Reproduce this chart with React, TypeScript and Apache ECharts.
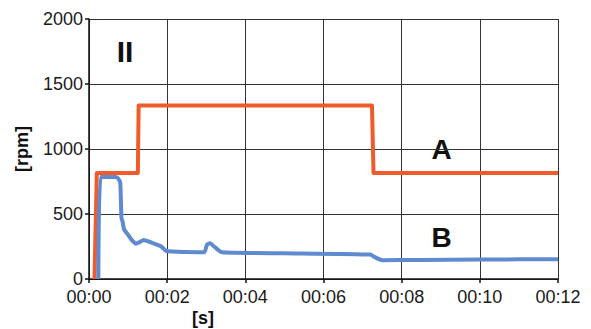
import React, { useEffect, useRef } from "react";
import * as echarts from "echarts";

// time in seconds, rpm
const seriesATime = [0.14, 0.2, 1.25, 1.27, 7.24, 7.28, 12];
const seriesAValues = [0, 815, 815, 1335, 1335, 815, 815];

const seriesBTime = [0.24, 0.3, 0.68, 0.74, 0.8, 0.83, 0.86, 0.9, 1.0, 1.08, 1.2, 1.3, 1.4, 1.6, 1.75, 1.85, 1.98, 2.5, 2.95, 3.02, 3.1, 3.2, 3.4, 5.0, 7.2, 7.3, 7.5, 8.5, 10, 12];
const seriesBValues = [0, 785, 785, 775, 740, 470, 440, 380, 340, 305, 272, 285, 300, 280, 262, 250, 215, 208, 205, 265, 275, 250, 205, 198, 188, 170, 145, 147, 150, 152];

const xTicks = [0, 2, 4, 6, 8, 10, 12];
const yTicks = [0, 500, 1000, 1500, 2000];
const seriesNames = ["A", "B"];

export default function App() {
  const ref = useRef<HTMLDivElement>(null);
  useEffect(() => {
    const chart = echarts.init(ref.current!, null, { renderer: "svg" });
    const font = "'Liberation Sans', Arial, sans-serif";
    chart.setOption({
      animation: false,
      grid: { left: 89, right: 33, top: 19, bottom: 50 },
      xAxis: {
        type: "value",
        min: xTicks[0],
        max: xTicks[xTicks.length - 1],
        interval: 2,
        axisLine: { lineStyle: { color: "#111", width: 1.5 } },
        axisTick: { show: true, length: 4, lineStyle: { color: "#111", width: 1.5 } },
        axisLabel: {
          fontFamily: font, fontSize: 18, lineHeight: 13, color: "#1a1a1a", margin: 11,
          formatter: (v: number) => "00:" + String(v).padStart(2, "0"),
        },
        splitLine: { show: true, lineStyle: { color: "#333", width: 1 } },
      },
      yAxis: {
        type: "value",
        min: yTicks[0],
        max: yTicks[yTicks.length - 1],
        interval: 500,
        name: "[rpm]",
        nameLocation: "middle",
        nameGap: 58,
        nameRotate: 90,
        nameTextStyle: { fontFamily: font, fontSize: 18, fontWeight: "bold", color: "#111" },
        axisLine: { show: true, lineStyle: { color: "#111", width: 1.5 } },
        axisTick: { show: true, length: 4, lineStyle: { color: "#111", width: 1.5 } },
        axisLabel: { fontFamily: font, fontSize: 18, lineHeight: 13, color: "#1a1a1a", margin: 6, formatter: (v: number) => String(v) },
        splitLine: { show: true, lineStyle: { color: "#333", width: 1 } },
      },
      series: [
        {
          name: seriesNames[0],
          type: "line",
          symbol: "none",
          data: seriesATime.map((t, i) => [t, seriesAValues[i]]),
          lineStyle: { color: "#F15A2B", width: 4, join: "round" },
          z: 3,
        },
        {
          name: seriesNames[1],
          type: "line",
          symbol: "none",
          smooth: 0.15,
          data: seriesBTime.map((t, i) => [t, seriesBValues[i]]),
          lineStyle: { color: "#5E8AD0", width: 4, join: "round" },
          z: 4,
        },
      ],
      graphic: [
        {
          type: "text", x: 125, y: 51,
          style: { text: "II", fontFamily: font, fontSize: 30, fontWeight: "bold", fill: "#111", align: "center", verticalAlign: "middle" },
        },
        {
          type: "text", x: 441.5, y: 149,
          style: {
            text: seriesNames[0], fontFamily: font, fontSize: 28, fontWeight: "bold", fill: "#111",
            align: "center", verticalAlign: "middle", backgroundColor: "#fff", padding: [0, 11],
          },
        },
        {
          type: "text", x: 441.5, y: 237,
          style: {
            text: seriesNames[1], fontFamily: font, fontSize: 28, fontWeight: "bold", fill: "#111",
            align: "center", verticalAlign: "middle",
          },
        },
        {
          type: "text", x: 203, y: 318,
          style: { text: "[s]", fontFamily: font, fontSize: 18, fontWeight: "bold", fill: "#111", align: "center", verticalAlign: "middle" },
        },
      ],
    });
    return () => chart.dispose();
  }, []);
  return <div ref={ref} style={{ width: 591, height: 329, position: "absolute", left: 0, top: 0, background: "#fff" }} />;
}
